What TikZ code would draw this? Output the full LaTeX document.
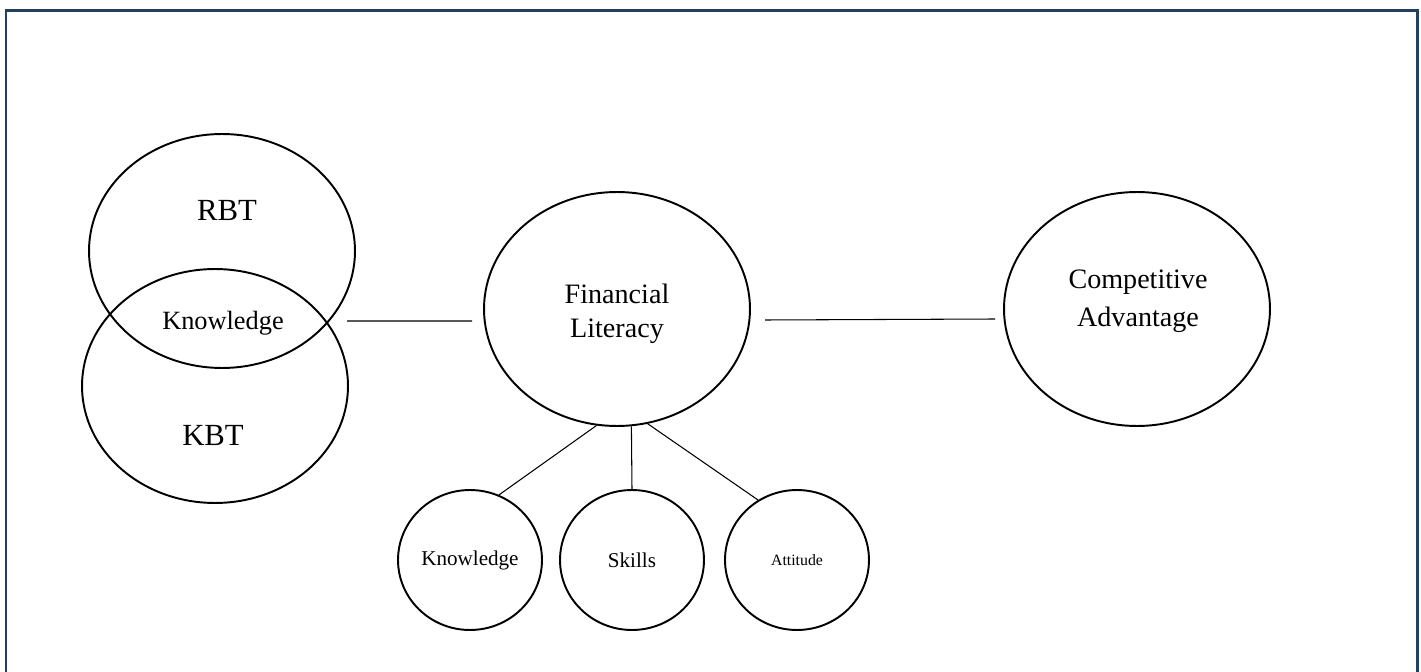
\documentclass[tikz,border=0pt]{standalone}
\usepackage{fontspec}
\setmainfont{Liberation Serif}
\usetikzlibrary{shapes.geometric}
\definecolor{framecol}{RGB}{36,63,96}

\begin{document}
\begin{tikzpicture}[x=0.02cm,y=-0.02cm,semithick,
  bigell/.style={draw,ellipse,line width=1.1pt,inner sep=0pt,minimum width=5.32cm,minimum height=4.68cm},
  smallell/.style={draw,ellipse,line width=1.1pt,inner sep=0pt,minimum width=2.88cm,minimum height=2.8cm,font=\fontsize{12}{14}\selectfont},
  lbl/.style={align=center,inner sep=0pt}]
\useasboundingbox (0,0) rectangle (1421,672);
\draw[framecol,line width=1.7pt](6,672)--(6,10.5)--(1417.5,10.5)--(1417.5,672);
\node[bigell](RBT) at (222,251){};
\node[bigell](KBT) at (215,386){};
\node[bigell](FL) at (617,309){};
\node[bigell](CA) at (1137,309){};
\node[smallell](Kn) at (470,560){Knowledge};
\node[smallell](Sk) at (632,560){Skills};
\node[smallell,font=\fontsize{9}{11}\selectfont](At) at (797,560){Attitude};
\node[lbl,font=\fontsize{17.5}{21}\selectfont](rbt) at (227,210){RBT};
\node[lbl,font=\fontsize{17.5}{21}\selectfont](kbt) at (213,435){KBT};
\node[lbl,font=\fontsize{15}{18}\selectfont](know) at (223,323){Knowledge};
\node[lbl,font=\fontsize{16}{19.3}\selectfont](fl) at (617,314){Financial\\Literacy};
\node[lbl,font=\fontsize{16}{21.5}\selectfont](ca) at (1138,301){Competitive\\Advantage};
\coordinate (l1) at (347,321);
\coordinate (l2) at (472,321);
\coordinate (r1) at (765,320);
\coordinate (r2) at (995,319);
\draw(l1)--(l2)(r1)--(r2);
\draw(FL.-100.7)--(Kn.66)(FL.-83)--(Sk.north)(FL.-75.4)--(At.123);
\end{tikzpicture}
\end{document}
